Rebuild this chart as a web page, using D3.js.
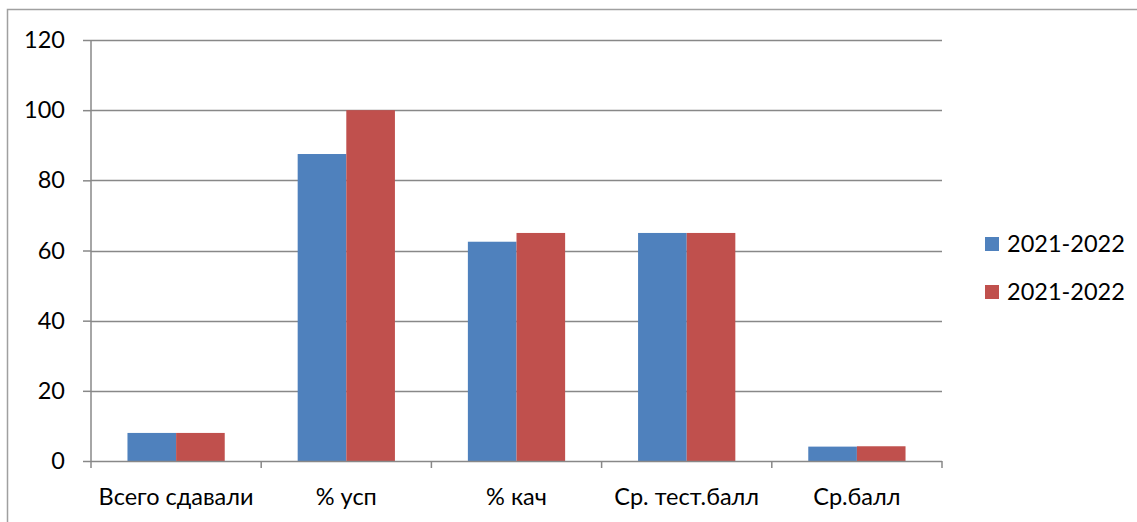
<!DOCTYPE html>
<html><head><meta charset="utf-8">
<script src="https://cdn.jsdelivr.net/npm/d3@7"></script>
<style>body{margin:0;background:#fff}svg{display:block}text{font-family:Lato,"Open Sans",sans-serif;fill:#000}</style>
</head><body>
<svg id="c" width="1137" height="522"></svg>
<script>
const categories = ["Всего сдавали", "% усп", "% кач", "Ср. тест.балл", "Ср.балл"];
const seriesNames = ["2021-2022", "2021-2022"];
const series1 = [8, 87.5, 62.5, 65, 4.1];
const series2 = [8, 100, 65, 65, 4.2];
const yTicks = [0, 20, 40, 60, 80, 100, 120];
const colors = ["#4f81bd", "#c0504d"];
const FS = "23.5px";

const svg = d3.select("#c");
svg.append("rect").attr("x",7.5).attr("y",9.5).attr("width",1200).attr("height",600)
  .attr("fill","none").attr("stroke","#a0a0a0").attr("stroke-width",1.5);

const L=91, R=942, T=40, B=461;
const x = d3.scaleBand().domain(categories).range([L,R]).paddingInner(0).paddingOuter(0);
const y = d3.scaleLinear().domain([0,120]).range([B,T]);
const bw = x.bandwidth()/3.5;
const off = (x.bandwidth()-2*bw)/2;

svg.append("g").selectAll("line").data(yTicks.filter(d=>d>0)).join("line")
  .attr("x1",L).attr("x2",R).attr("y1",d=>Math.round(y(d))+0.5).attr("y2",d=>Math.round(y(d))+0.5)
  .attr("stroke","#888").attr("stroke-width",1.5);

const data = [series1, series2];
data.forEach((s,si)=>{
  svg.append("g").selectAll("rect").data(s).join("rect")
    .attr("x",(d,i)=>x(categories[i])+off+si*bw)
    .attr("width",bw)
    .attr("y",d=>y(d)).attr("height",d=>B-y(d))
    .attr("fill",colors[si]);
});

const ya = d3.axisLeft(y).tickValues(yTicks).tickSize(8).tickPadding(18);
const gy = svg.append("g").attr("transform",`translate(${L},0)`).call(ya);
gy.selectAll("path,line").attr("stroke","#888").attr("stroke-width",1.5);
gy.select(".domain").attr("d",`M0,${T}V${B}`);
gy.selectAll("text").style("font-size",FS).style("font-family","Lato,'Open Sans',sans-serif").attr("fill","#000");

const gx = svg.append("g").attr("transform",`translate(0,${B})`);
gx.append("line").attr("x1",L).attr("x2",R).attr("y1",0.5).attr("y2",0.5).attr("stroke","#888").attr("stroke-width",1.5);
const bounds = categories.map(c=>x(c)).concat([R]);
gx.selectAll("line.t").data(bounds).join("line").attr("class","t")
  .attr("x1",d=>d).attr("x2",d=>d).attr("y1",0).attr("y2",7).attr("stroke","#888").attr("stroke-width",1.5);
gx.selectAll("text").data(categories).join("text")
  .attr("x",d=>x(d)+x.bandwidth()/2).attr("y",44).attr("text-anchor","middle")
  .style("font-size",FS).text(d=>d);

const lg = svg.append("g");
seriesNames.forEach((n,i)=>{
  const cy = 244 + i*48;
  lg.append("rect").attr("x",985).attr("y",cy-7).attr("width",14).attr("height",14).attr("fill",colors[i]);
  lg.append("text").attr("x",1007).attr("y",cy).attr("dy","0.35em").style("font-size",FS).text(n);
});
</script>
</body></html>
